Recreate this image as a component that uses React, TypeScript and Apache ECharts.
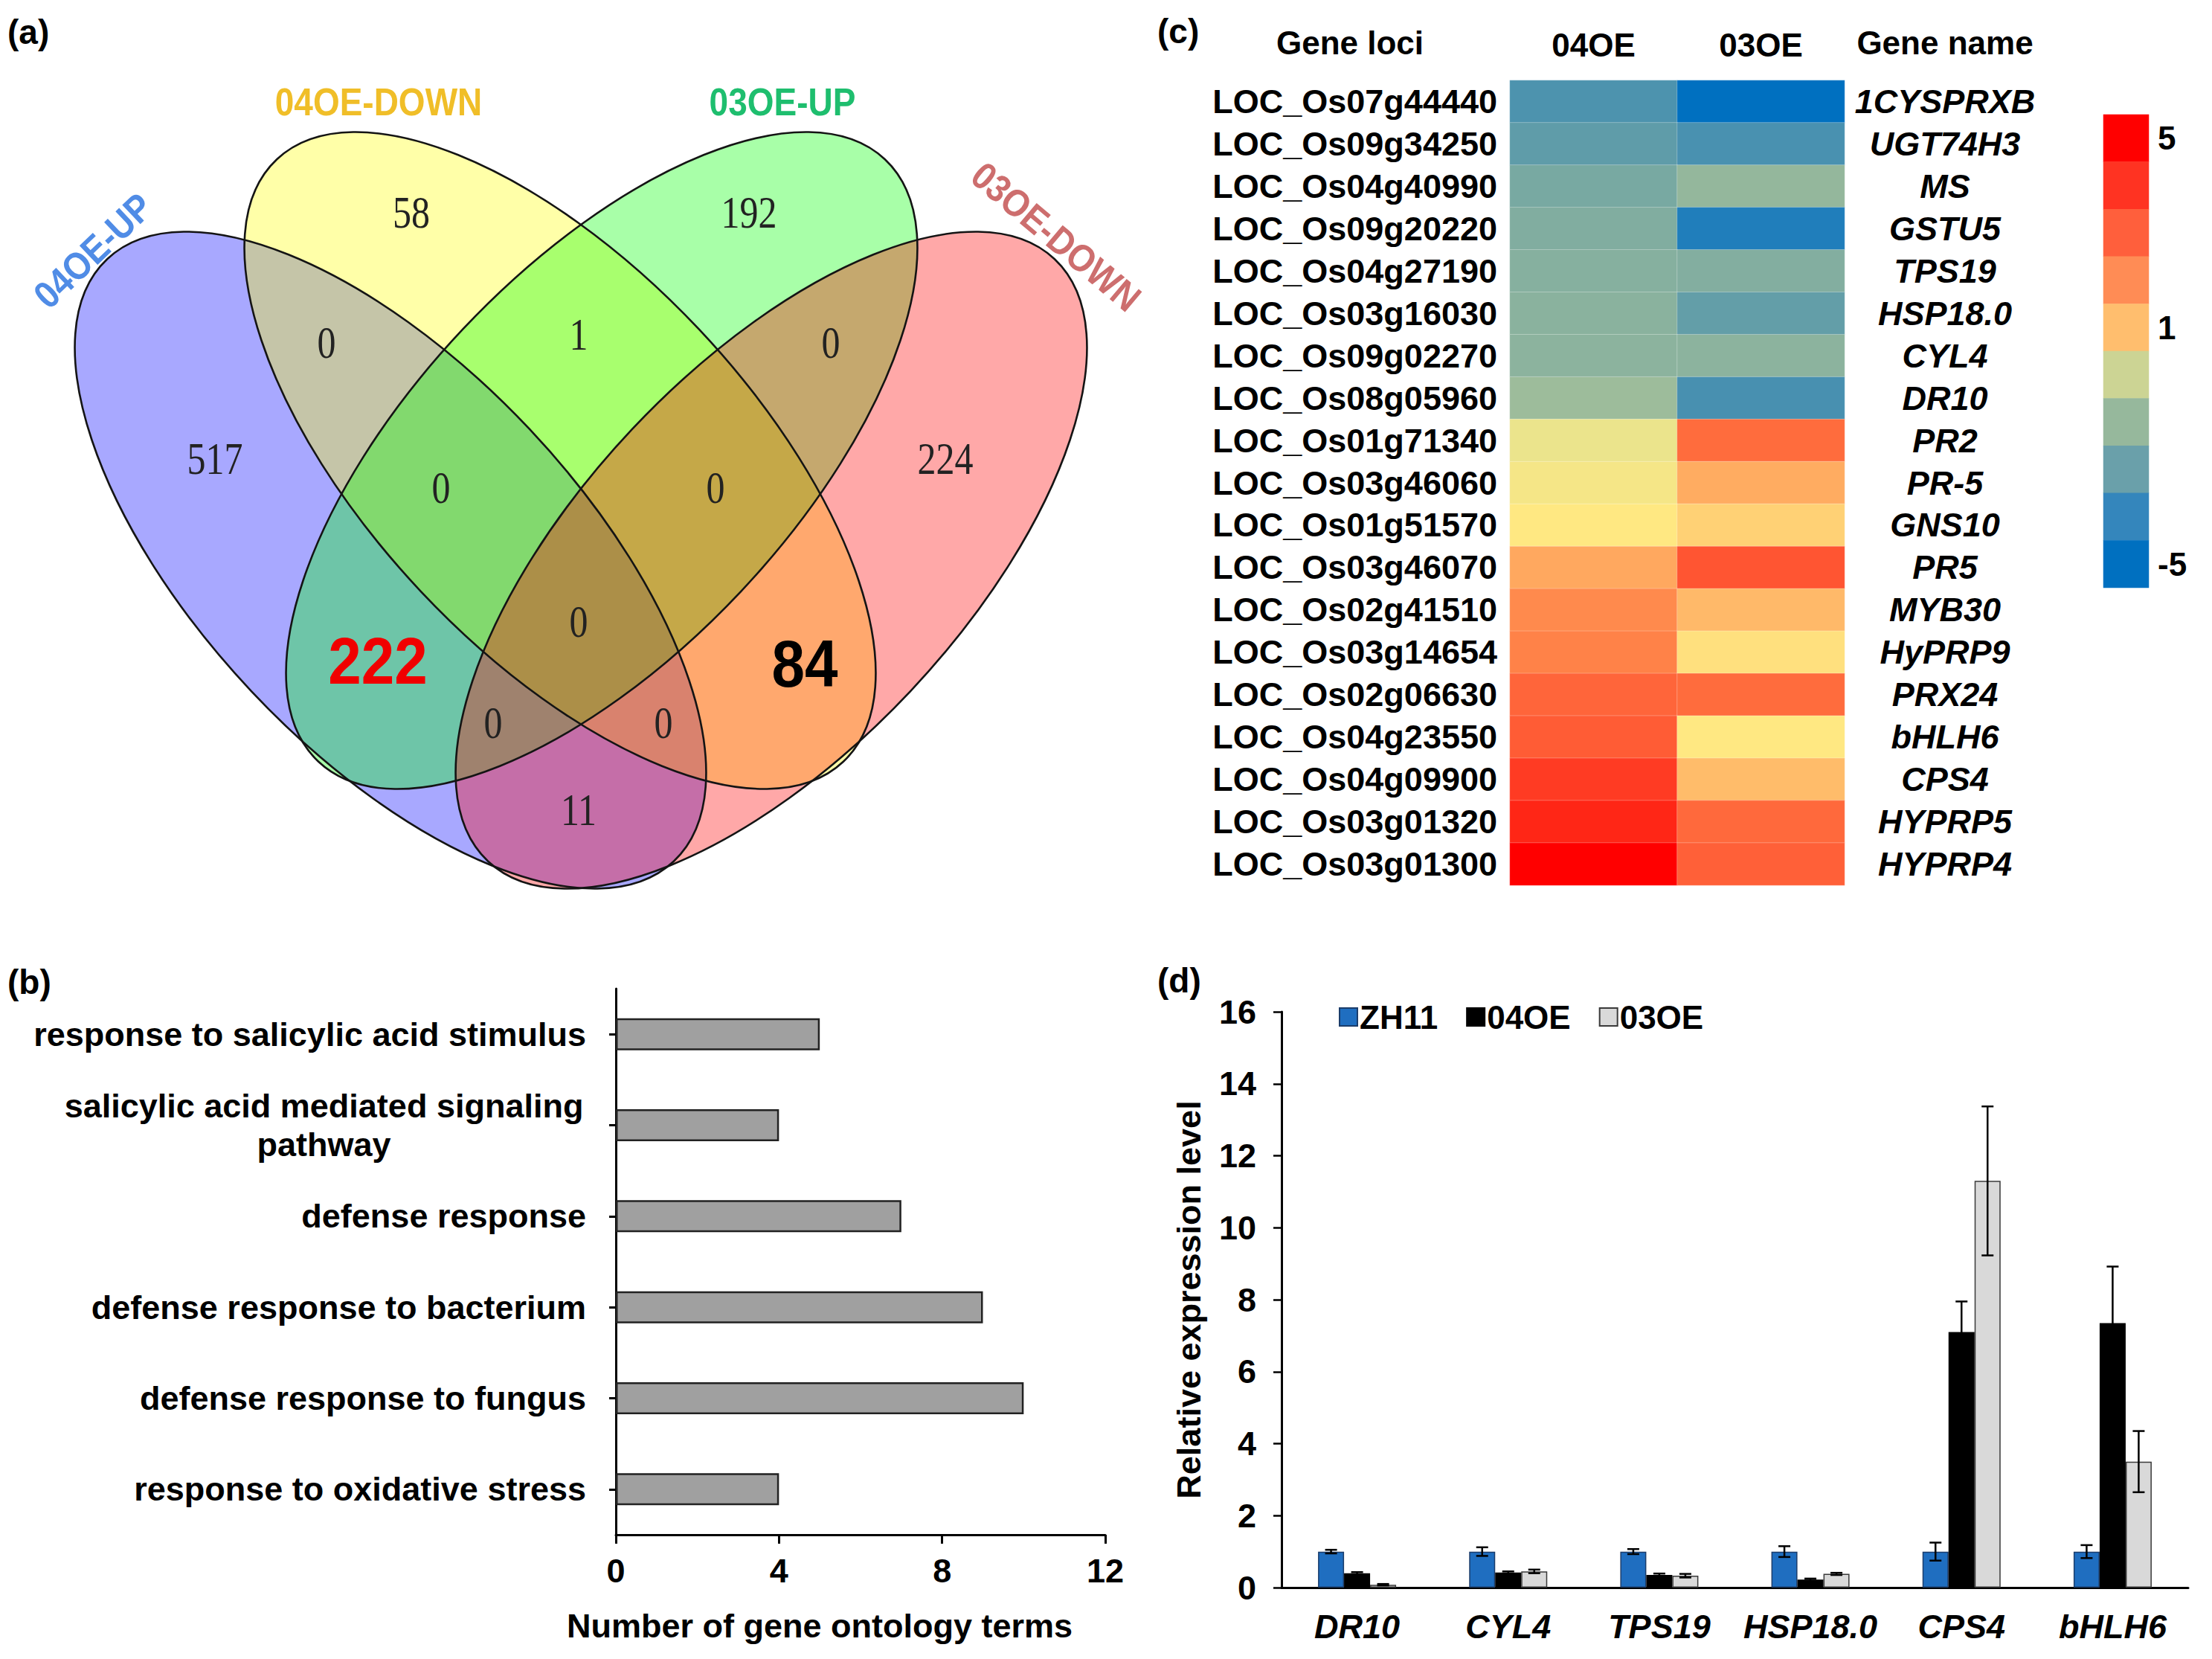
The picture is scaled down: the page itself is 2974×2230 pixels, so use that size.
import React, { useEffect, useRef } from 'react';
import * as echarts from 'echarts';

// ---------------- DATA ----------------
// (a) Venn diagram
const vennSetNames = ['04OE-UP', '04OE-DOWN', '03OE-UP', '03OE-DOWN'];
const vennRegionKeys = ['A', 'B', 'C', 'D', 'AB', 'BC', 'CD', 'ABC', 'BCD', 'AC', 'BD', 'ABCD', 'ACD', 'ABD', 'AD'];
const vennRegionCounts = [517, 58, 192, 224, 0, 1, 0, 0, 0, 222, 84, 0, 0, 0, 11];

// (b) GO terms
const goTerms = [
  'response to salicylic acid stimulus',
  'salicylic acid mediated signaling\npathway',
  'defense response',
  'defense response to bacterium',
  'defense response to fungus',
  'response to oxidative stress',
];
const goCounts = [5, 4, 7, 9, 10, 4];
const goTicks = [0, 4, 8, 12];

// (c) heatmap
const heatColumns = ['04OE', '03OE'];
const geneLoci = [
  'LOC_Os07g44440', 'LOC_Os09g34250', 'LOC_Os04g40990', 'LOC_Os09g20220', 'LOC_Os04g27190',
  'LOC_Os03g16030', 'LOC_Os09g02270', 'LOC_Os08g05960', 'LOC_Os01g71340', 'LOC_Os03g46060',
  'LOC_Os01g51570', 'LOC_Os03g46070', 'LOC_Os02g41510', 'LOC_Os03g14654', 'LOC_Os02g06630',
  'LOC_Os04g23550', 'LOC_Os04g09900', 'LOC_Os03g01320', 'LOC_Os03g01300',
];
const geneNames = [
  '1CYSPRXB', 'UGT74H3', 'MS', 'GSTU5', 'TPS19', 'HSP18.0', 'CYL4', 'DR10', 'PR2', 'PR-5',
  'GNS10', 'PR5', 'MYB30', 'HyPRP9', 'PRX24', 'bHLH6', 'CPS4', 'HYPRP5', 'HYPRP4',
];
const heat04OE = [-2.95, -2.5, -1.85, -1.6, -1.45, -1.35, -1.28, -0.92, 0.0, 0.5, 1.0, 2.25, 2.85, 3.0, 3.65, 3.85, 4.3, 4.55, 5.0];
const heat03OE = [-5.0, -3.05, -1.05, -4.2, -1.55, -2.4, -1.28, -3.1, 3.5, 2.15, 1.45, 4.0, 1.9, 1.15, 3.5, 1.0, 1.85, 3.55, 3.75];
const scaleBandLabels = ['5', '4', '3', '2', '1', '-1', '-2', '-3', '-4', '-5'];
const scaleShownLabels = ['5', '1', '-5'];

// (d) qRT-PCR
const qGenes = ['DR10', 'CYL4', 'TPS19', 'HSP18.0', 'CPS4', 'bHLH6'];
const qSeriesNames = ['ZH11', '04OE', '03OE'];
const qZH11 = [1.0, 1.0, 1.0, 1.0, 1.0, 1.0];
const qZH11Err = [0.05, 0.12, 0.07, 0.15, 0.25, 0.18];
const q04OE = [0.4, 0.42, 0.35, 0.22, 7.1, 7.35];
const q04OEErr = [0.03, 0.03, 0.04, 0.03, 0.85, 1.57];
const q03OE = [0.08, 0.45, 0.33, 0.38, 11.3, 3.5];
const q03OEErr = [0.02, 0.05, 0.05, 0.03, 2.07, 0.85];

// ---------------- LAYOUT / STYLE ----------------
const SANS = '"Liberation Sans", Arial, Helvetica, sans-serif';
const SERIF = '"Liberation Serif", "Times New Roman", serif';

const vennEllipse = { rx: 556, ry: 257, rot: 0.816 };
const vennCenters: Record<string, [number, number]> = {
  A: [525, 753], B: [753, 619], C: [809, 619], D: [1037, 753],
};
const vennFills: Record<string, string> = {
  A: 'rgba(0,0,255,0.34)', B: 'rgba(255,255,0,0.34)', C: 'rgba(0,255,0,0.34)', D: 'rgba(255,0,0,0.34)',
};
const vennRotation: Record<string, number> = { A: -1, B: -1, C: 1, D: 1 };
const vennLabelPos: Record<string, [number, number]> = {
  A: [289, 616], B: [553, 285], C: [1007, 285], D: [1271, 616],
  AB: [439, 460], BC: [778, 449], CD: [1117, 460], ABC: [593, 655], BCD: [962, 655],
  AC: [508, 889], BD: [1082, 893], ABCD: [778, 835], ACD: [663, 971], ABD: [892, 971], AD: [778, 1088],
};
const vennSetLabelLayout = [
  { x: 125, y: 337, rot: 0.76, color: '#508CE6' },
  { x: 509, y: 137, rot: 0, color: '#F0BE28' },
  { x: 1052, y: 137, rot: 0, color: '#1EBE6E' },
  { x: 1420, y: 318, rot: -0.70, color: '#CD6E6E' },
];

const heatStops = [
  '#0070C0', '#2882BA', '#4B92AF', '#73A6A3', '#96B89C',
  '#EBE48C', '#FFE882', '#FFB466', '#FF8248', '#FF5532', '#FF0000',
];
const bandColors = [
  '#0070C0', '#3486BC', '#6AA0AA', '#96B89C', '#CCD494',
  '#FFBE6E', '#FF8C55', '#FF5F3C', '#FF3322', '#FF0000',
];

const BAR_W = 35;
const CAP = 8;

function buildOption() {
  const graphics: any[] = [];
  const txt = (text: string, x: number, y: number, font: string, fill: string, extra: any = {}) => ({
    type: 'text',
    x,
    y,
    silent: true,
    ...extra,
    style: {
      text,
      font,
      fill,
      align: extra.align || 'center',
      verticalAlign: 'middle',
      textAlign: extra.align || 'center',
      textVerticalAlign: 'middle',
    },
  });

  // panel letters
  graphics.push(txt('(a)', 10, 43, `bold 46px ${SANS}`, '#000', { align: 'left' }));
  graphics.push(txt('(b)', 10, 1320, `bold 46px ${SANS}`, '#000', { align: 'left' }));
  graphics.push(txt('(c)', 1556, 42, `bold 46px ${SANS}`, '#000', { align: 'left' }));
  graphics.push(txt('(d)', 1556, 1318, `bold 46px ${SANS}`, '#000', { align: 'left' }));

  // Venn fills
  const keys = ['A', 'B', 'C', 'D'];
  keys.forEach((k) => {
    graphics.push({
      type: 'ellipse', silent: true,
      x: vennCenters[k][0], y: vennCenters[k][1], rotation: vennRotation[k] * vennEllipse.rot,
      shape: { cx: 0, cy: 0, rx: vennEllipse.rx, ry: vennEllipse.ry },
      style: { fill: vennFills[k], stroke: null },
    });
  });
  keys.forEach((k) => {
    graphics.push({
      type: 'ellipse', silent: true,
      x: vennCenters[k][0], y: vennCenters[k][1], rotation: vennRotation[k] * vennEllipse.rot,
      shape: { cx: 0, cy: 0, rx: vennEllipse.rx, ry: vennEllipse.ry },
      style: { fill: null, stroke: '#141414', lineWidth: 2.6 },
    });
  });
  // Venn region counts
  vennRegionKeys.forEach((k, i) => {
    const [x, y] = vennLabelPos[k];
    const v = String(vennRegionCounts[i]);
    if (k === 'AC') {
      graphics.push(txt(v, x, y, `bold 80px ${SANS}`, '#F00000', { scaleY: 1.1 }));
    } else if (k === 'BD') {
      graphics.push(txt(v, x, y, `bold 80px ${SANS}`, '#000', { scaleY: 1.1 }));
    } else {
      graphics.push(txt(v, x, y, `50px ${SERIF}`, '#222', { scaleY: 1.22 }));
    }
  });
  // Venn set labels
  vennSetNames.forEach((name, i) => {
    const L = vennSetLabelLayout[i];
    graphics.push(txt(name, L.x, L.y, `bold 46px ${SANS}`, L.color, { rotation: L.rot, scaleY: 1.12 }));
  });

  // heatmap headers
  graphics.push(txt('Gene loci', 1815, 57, `bold 44px ${SANS}`, '#000'));
  graphics.push(txt('Gene name', 2615, 57, `bold 44px ${SANS}`, '#000'));

  const heatData: any[] = [];
  geneLoci.forEach((_, i) => {
    heatData.push([0, i, heat04OE[i]]);
    heatData.push([1, i, heat03OE[i]]);
  });
  const bandData = scaleBandLabels.map((_, i) => [0, i, scaleBandLabels.length - 1 - i]);

  const qValues = [qZH11, q04OE, q03OE];
  const qErrs = [qZH11Err, q04OEErr, q03OEErr];
  const qColors = ['#1F6EC0', '#000000', '#D9D9D9'];
  const qBorders = ['#1B3D6B', '#000000', '#3A3A3A'];
  const errData: any[] = [];
  qValues.forEach((arr, g) => arr.forEach((v, c) => errData.push([c, g, v, qErrs[g][c]])));

  const axisLine = { show: true, lineStyle: { color: '#000', width: 3 } };

  return {
    animation: false,
    backgroundColor: '#fff',
    textStyle: { fontFamily: SANS, color: '#000' },
    graphic: { elements: graphics },
    grid: [
      { left: 828, top: 1329, width: 658, height: 734 },
      { left: 2030, top: 108, width: 450, height: 1082 },
      { left: 2828, top: 154, width: 61, height: 636 },
      { left: 1723, top: 1360, width: 1219, height: 774 },
    ],
    legend: {
      data: qSeriesNames,
      left: 1795, top: 1340,
      icon: 'rect', itemWidth: 24, itemHeight: 24, itemGap: 38,
      textStyle: { fontSize: 44, fontWeight: 'bold', color: '#000', fontFamily: SANS, padding: [0, 0, 0, -2] },
      selectedMode: false,
    },
    visualMap: [
      { type: 'continuous', show: false, seriesIndex: 1, min: -5, max: 5, inRange: { color: heatStops } },
      { type: 'continuous', show: false, seriesIndex: 2, min: 0, max: 9, inRange: { color: bandColors } },
    ],
    xAxis: [
      {
        gridIndex: 0, type: 'value', min: 0, max: 12, interval: 4,
        axisLine, splitLine: { show: false },
        axisTick: { show: true, length: 12, lineStyle: { color: '#000', width: 3 } },
        axisLabel: { fontSize: 45, fontWeight: 'bold', color: '#000', margin: 26, customValues: goTicks },
        name: 'Number of gene ontology terms', nameLocation: 'middle', nameGap: 100,
        nameTextStyle: { fontSize: 45, fontWeight: 'bold', color: '#000', padding: [0, 110, 0, 0] },
      },
      {
        gridIndex: 1, type: 'category', data: heatColumns, position: 'top',
        axisLine: { show: false }, axisTick: { show: false },
        axisLabel: { fontSize: 44, fontWeight: 'bold', color: '#000', margin: 26, interval: 0 },
      },
      {
        gridIndex: 2, type: 'category', data: [''], show: false,
      },
      {
        gridIndex: 3, type: 'category', data: qGenes,
        axisLine, axisTick: { show: false },
        axisLabel: { fontSize: 45, fontWeight: 'bold', fontStyle: 'italic', color: '#000', margin: 30, interval: 0 },
      },
    ],
    yAxis: [
      {
        gridIndex: 0, type: 'category', data: goTerms, inverse: true,
        axisLine, axisTick: { show: true, alignWithLabel: true, length: 9, lineStyle: { color: '#000', width: 3 } },
        axisLabel: {
          fontSize: 45, fontWeight: 'bold', color: '#000', margin: 40, lineHeight: 52, interval: 0,
          formatter: (v: string) => (v.indexOf('\n') >= 0 ? v.split('\n').map((s) => `{c|${s}}`).join('\n') : v),
          rich: { c: { width: 705, align: 'center', fontSize: 45, fontWeight: 'bold', lineHeight: 52, color: '#000' } },
        },
      },
      {
        gridIndex: 1, type: 'category', data: geneLoci, inverse: true,
        axisLine: { show: false }, axisTick: { show: false },
        axisLabel: { fontSize: 45, fontWeight: 'bold', color: '#000', margin: 17, interval: 0 },
      },
      {
        gridIndex: 1, type: 'category', data: geneNames, inverse: true, position: 'right',
        axisLine: { show: false }, axisTick: { show: false },
        axisLabel: { fontSize: 45, fontWeight: 'bold', fontStyle: 'italic', color: '#000', margin: 135, align: 'center', interval: 0 },
      },
      {
        gridIndex: 2, type: 'category', data: scaleBandLabels, inverse: true, position: 'right',
        axisLine: { show: false }, axisTick: { show: false },
        axisLabel: {
          fontSize: 44, fontWeight: 'bold', color: '#000', margin: 12, interval: 0,
          formatter: (v: string) => (scaleShownLabels.indexOf(v) >= 0 ? v : ''),
        },
      },
      {
        gridIndex: 3, type: 'value', min: 0, max: 16, interval: 2,
        axisLine, splitLine: { show: false },
        axisTick: { show: true, length: 11, lineStyle: { color: '#000', width: 2.5 } },
        axisLabel: { fontSize: 45, fontWeight: 'bold', color: '#000', margin: 34 },
        name: 'Relative expression level', nameLocation: 'middle', nameGap: 102,
        nameTextStyle: { fontSize: 45, fontWeight: 'bold', color: '#000' },
      },
    ],
    series: [
      {
        type: 'bar', xAxisIndex: 0, yAxisIndex: 0, data: goCounts, barWidth: 43,
        itemStyle: { color: '#A0A0A0', borderColor: '#222', borderWidth: 2.5 },
        silent: true,
      },
      {
        type: 'heatmap', xAxisIndex: 1, yAxisIndex: 1, data: heatData,
        itemStyle: { borderColor: 'rgba(255,255,255,0.28)', borderWidth: 1 },
        silent: true,
      },
      {
        type: 'heatmap', xAxisIndex: 2, yAxisIndex: 3, data: bandData, silent: true,
      },
      ...qSeriesNames.map((name, g) => ({
        type: 'bar', name, xAxisIndex: 3, yAxisIndex: 4, data: qValues[g],
        barWidth: BAR_W, barGap: '0%',
        itemStyle: { color: qColors[g], borderColor: qBorders[g], borderWidth: 1.5 },
        silent: true,
      })),
      {
        type: 'custom', xAxisIndex: 3, yAxisIndex: 4, data: errData, silent: true, z: 5,
        encode: { x: 0, y: 2 },
        renderItem: (params: any, api: any) => {
          const c = api.value(0);
          const g = api.value(1);
          const v = api.value(2);
          const e = api.value(3);
          const base = api.coord([c, v]);
          const x = base[0] + (g - 1) * BAR_W;
          const yt = api.coord([c, v + e])[1];
          const yb = api.coord([c, v - e])[1];
          const st = { stroke: '#000', lineWidth: 2.5 };
          return {
            type: 'group',
            children: [
              { type: 'line', shape: { x1: x, y1: yt, x2: x, y2: yb }, style: st },
              { type: 'line', shape: { x1: x - CAP, y1: yt, x2: x + CAP, y2: yt }, style: st },
              { type: 'line', shape: { x1: x - CAP, y1: yb, x2: x + CAP, y2: yb }, style: st },
            ],
          };
        },
      },
    ],
  };
}

export default function App() {
  const ref = useRef<HTMLDivElement>(null);
  useEffect(() => {
    if (!ref.current) return;
    const chart = echarts.init(ref.current, undefined, { renderer: 'svg' });
    chart.setOption(buildOption() as any);
    return () => chart.dispose();
  }, []);
  return (
    <div
      ref={ref}
      style={{ position: 'fixed', left: 0, top: 0, width: 2974, height: 2230, background: '#fff' }}
    />
  );
}
